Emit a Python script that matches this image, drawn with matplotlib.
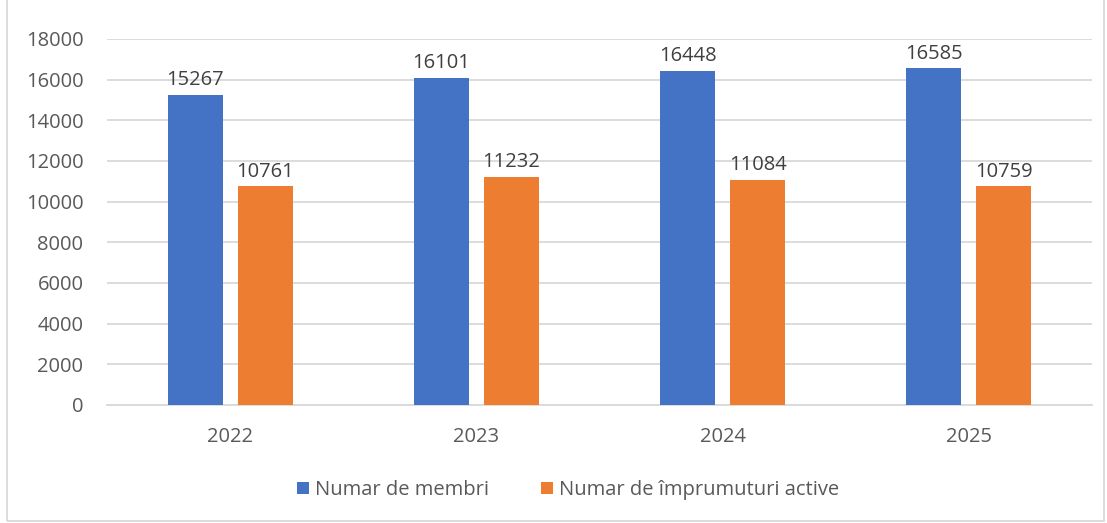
import matplotlib
matplotlib.use('Agg')
import matplotlib.pyplot as plt
from matplotlib.patches import Rectangle
import numpy as np

# ------------------------------------------------------------------
#  Data
# ------------------------------------------------------------------
years = ['2022', '2023', '2024', '2025']
membri = [15267, 16101, 16448, 16585]
imprumuturi = [10761, 11232, 11084, 10759]
series_labels = ['Numar de membri', 'Numar de împrumuturi active']
y_ticks = [0, 2000, 4000, 6000, 8000, 10000, 12000, 14000, 16000, 18000]

BLUE = '#4472C4'
ORANGE = '#ED7D31'
TEXT = '#595959'
GRID = '#D9D9D9'
FS = 14.5

plt.rcParams['font.family'] = ['Open Sans', 'DejaVu Sans']

fig = plt.figure(figsize=(11.07, 5.23), dpi=100)
ax = fig.add_axes([107 / 1107, 1 - 405 / 523, (1092 - 107) / 1107, (405 - 39) / 523])

x = np.arange(len(years))
width = 0.223
offset = 0.142
b1 = ax.bar(x - offset, membri, width, color=BLUE, label=series_labels[0], zorder=3)
b2 = ax.bar(x + offset, imprumuturi, width, color=ORANGE, label=series_labels[1], zorder=3)

for bars in (b1, b2):
    for rect in bars:
        h = rect.get_height()
        ax.annotate(f'{int(h)}', (rect.get_x() + rect.get_width() / 2, h),
                    xytext=(0, 3), textcoords='offset points',
                    ha='center', va='bottom', fontsize=FS, color='#404040')

ax.set_xlim(-0.5, len(years) - 0.5)
ax.set_ylim(0, 18000)
ax.set_yticks(y_ticks)
ax.set_yticklabels([str(v) for v in y_ticks])
ax.set_xticks(x)
ax.set_xticklabels(years)
ax.tick_params(axis='y', length=0, pad=17, labelsize=FS, labelcolor=TEXT)
ax.tick_params(axis='x', length=0, pad=16, labelsize=FS, labelcolor=TEXT)
ax.grid(axis='y', color=GRID, linewidth=1.3, zorder=0)
for s in ('top', 'right', 'left'):
    ax.spines[s].set_visible(False)
ax.spines['bottom'].set_color(GRID)
ax.spines['bottom'].set_linewidth(1.3)

fig.legend(loc='center', bbox_to_anchor=(568 / 1107, 1 - 490 / 523), ncol=2,
           frameon=False, fontsize=FS, labelcolor=TEXT, handlelength=0.6,
           handleheight=0.6, handletextpad=0.3, columnspacing=2.6)

# outer chart border
fig.patches.append(Rectangle((7 / 1107, 2 / 523), (1104 - 7) / 1107, 1.0,
                             transform=fig.transFigure, fill=False,
                             edgecolor='#D9D9D9', linewidth=1.3))

fig.savefig('out.png', dpi=100)
